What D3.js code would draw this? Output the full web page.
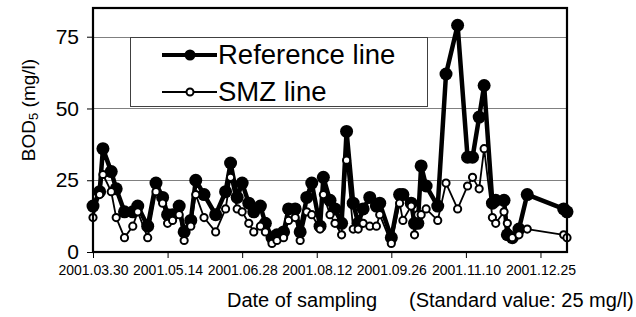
<!DOCTYPE html>
<html>
<head>
<meta charset="utf-8">
<script src="https://cdn.jsdelivr.net/npm/d3@7/dist/d3.min.js"></script>
<style>
  body { margin: 0; background: #fff; }
  svg { font-family: "Liberation Sans", Arial, sans-serif; }
</style>
</head>
<body>
<script>
// sampling dates (yyyy-mm-dd)
var dates = ["2001-03-30","2001-04-03","2001-04-05","2001-04-10","2001-04-13","2001-04-18","2001-04-23","2001-04-26",
  "2001-05-02","2001-05-07","2001-05-11","2001-05-14","2001-05-17","2001-05-21","2001-05-24","2001-05-28","2001-05-31",
  "2001-06-05","2001-06-12","2001-06-18","2001-06-21","2001-06-25","2001-06-28","2001-07-02","2001-07-05","2001-07-09",
  "2001-07-12","2001-07-16","2001-07-19","2001-07-23","2001-07-26","2001-07-30","2001-08-02","2001-08-06","2001-08-09",
  "2001-08-14","2001-08-16","2001-08-20","2001-08-23","2001-08-27","2001-08-30","2001-09-03","2001-09-06","2001-09-09",
  "2001-09-13","2001-09-17","2001-09-19","2001-09-26","2001-10-01","2001-10-03","2001-10-08","2001-10-10","2001-10-12",
  "2001-10-14","2001-10-17","2001-10-24","2001-10-29","2001-11-05","2001-11-11","2001-11-14","2001-11-18","2001-11-21",
  "2001-11-26","2001-11-28","2001-12-03","2001-12-05","2001-12-08","2001-12-12","2001-12-17","2002-01-08","2002-01-10"];

var referenceLine = [16,21,36,28,22,14,14,16,9,24,19,13,13,16,7,11,25,20,13,21,31,19,24,17,14,16,10,5,6,7,
  15,15,7,19,24,9,26,18,15,10,42,17,10,15,19,16,17,5,20,20,17,10,10,30,23,16,62,79,33,33,47,58,17,18,18,6,5,8,20,15,14];

var smzLine = [12,20,27,21,12,5,9,14,5,21,17,10,11,13,4,9,20,12,7,15,26,15,14,10,7,9,7,3,4,5,
  11,12,4,14,13,8,20,13,10,6,32,8,8,10,9,9,13,3,17,11,16,6,13,13,15,11,24,15,23,26,22,36,12,10,14,10,5,6,8,6,5];

var tickLabels = ["2001.03.30","2001.05.14","2001.06.28","2001.08.12","2001.09.26","2001.11.10","2001.12.25"];
var yTicks = [0, 25, 50, 75];

var width = 636, height = 317;
var plotLeft = 93, plotRight = 567, plotTop = 8, plotBottom = 252;

var parse = d3.timeParse("%Y-%m-%d");
var parseTick = d3.timeParse("%Y.%m.%d");

var data = dates.map(function(d, i) {
  return { date: parse(d), ref: referenceLine[i], smz: smzLine[i] };
});

var x = d3.scaleTime()
  .domain([parse("2001-03-30"), parse("2002-01-10")])
  .range([plotLeft, plotRight]);

var y = d3.scaleLinear()
  .domain([0, 85])
  .range([plotBottom, plotTop]);

var svg = d3.select("body").append("svg")
  .attr("width", width)
  .attr("height", height);

svg.append("rect").attr("width", width).attr("height", height).attr("fill", "#fff");

// gridlines
svg.append("g")
  .selectAll("line")
  .data(yTicks.filter(function(t) { return t > 0; }))
  .enter().append("line")
  .attr("x1", plotLeft).attr("x2", plotRight)
  .attr("y1", function(d) { return Math.round(y(d)) + 0.5; })
  .attr("y2", function(d) { return Math.round(y(d)) + 0.5; })
  .attr("stroke", "#808080")
  .attr("stroke-width", 1);

// y axis
var yAxis = svg.append("g")
  .attr("transform", "translate(" + plotLeft + ",0)")
  .call(d3.axisLeft(y).tickValues(yTicks).tickSize(6).tickPadding(8));
yAxis.select(".domain").remove();
yAxis.selectAll("line").attr("stroke", "#000").attr("stroke-width", 1);
yAxis.selectAll("text").attr("font-size", "21px").attr("fill", "#000")
  .attr("font-family", "Liberation Sans, Arial, sans-serif");

// x axis
var xAxis = svg.append("g")
  .attr("transform", "translate(0," + plotBottom + ")")
  .call(d3.axisBottom(x)
    .tickValues(tickLabels.map(function(t) { return parseTick(t); }))
    .tickFormat(d3.timeFormat("%Y.%m.%d"))
    .tickSize(6).tickPadding(7));
xAxis.select(".domain").remove();
xAxis.selectAll("line").attr("stroke", "#000").attr("stroke-width", 1);
xAxis.selectAll("text").attr("font-size", "14px").attr("fill", "#000")
  .attr("font-family", "Liberation Sans, Arial, sans-serif");

// legend box
svg.append("rect")
  .attr("x", 130.5).attr("y", Math.round(y(75)) + 0.5)
  .attr("width", 297).attr("height", 69)
  .attr("fill", "#fff")
  .attr("stroke", "#404040")
  .attr("stroke-width", 1);

var line = function(key) {
  return d3.line()
    .x(function(d) { return x(d.date); })
    .y(function(d) { return y(d[key]); });
};

// reference series
svg.append("path")
  .datum(data)
  .attr("d", line("ref"))
  .attr("fill", "none")
  .attr("stroke", "#000")
  .attr("stroke-width", 4.5)
  .attr("stroke-linejoin", "round");

svg.append("g").selectAll("circle")
  .data(data).enter().append("circle")
  .attr("cx", function(d) { return x(d.date); })
  .attr("cy", function(d) { return y(d.ref); })
  .attr("r", 6.5)
  .attr("fill", "#000");

// SMZ series
svg.append("path")
  .datum(data)
  .attr("d", line("smz"))
  .attr("fill", "none")
  .attr("stroke", "#000")
  .attr("stroke-width", 1.8)
  .attr("stroke-linejoin", "round");

svg.append("g").selectAll("circle")
  .data(data).enter().append("circle")
  .attr("cx", function(d) { return x(d.date); })
  .attr("cy", function(d) { return y(d.smz); })
  .attr("r", 3.6)
  .attr("fill", "#fff")
  .attr("stroke", "#000")
  .attr("stroke-width", 2);

// plot frame
svg.append("rect")
  .attr("x", plotLeft).attr("y", plotTop)
  .attr("width", plotRight - plotLeft).attr("height", plotBottom - plotTop)
  .attr("fill", "none")
  .attr("stroke", "#000")
  .attr("stroke-width", 2.2);

// legend entries
var legend = [
  { name: "Reference line", y: 55, sw: 4, r: 5.5, fill: "#000", msw: 0 },
  { name: "SMZ line", y: 92, sw: 2, r: 3.5, fill: "#fff", msw: 2 }
];
var lg = svg.append("g").selectAll("g").data(legend).enter().append("g");
lg.append("line")
  .attr("x1", 162).attr("x2", 217)
  .attr("y1", function(d) { return d.y; }).attr("y2", function(d) { return d.y; })
  .attr("stroke", "#000")
  .attr("stroke-width", function(d) { return d.sw; });
lg.append("circle")
  .attr("cx", 190).attr("cy", function(d) { return d.y; })
  .attr("r", function(d) { return d.r; })
  .attr("fill", function(d) { return d.fill; })
  .attr("stroke", "#000")
  .attr("stroke-width", function(d) { return d.msw; });
lg.append("text")
  .attr("x", 218).attr("y", function(d) { return d.y + 9; })
  .attr("font-size", "27.5px")
  .text(function(d) { return d.name; });

// axis titles
var yTitle = svg.append("text")
  .attr("transform", "translate(35,110) rotate(-90)")
  .attr("text-anchor", "middle")
  .attr("font-size", "19px");
yTitle.append("tspan").text("BOD");
yTitle.append("tspan").attr("font-size", "13px").attr("dy", 3).text("5");
yTitle.append("tspan").attr("dy", -3).text(" (mg/l)");

svg.append("text")
  .attr("x", 227).attr("y", 307)
  .attr("font-size", "20px")
  .text("Date of sampling");

svg.append("text")
  .attr("x", 409).attr("y", 307)
  .attr("font-size", "20px")
  .text("(Standard value: 25 mg/l)");
</script>
</body>
</html>
